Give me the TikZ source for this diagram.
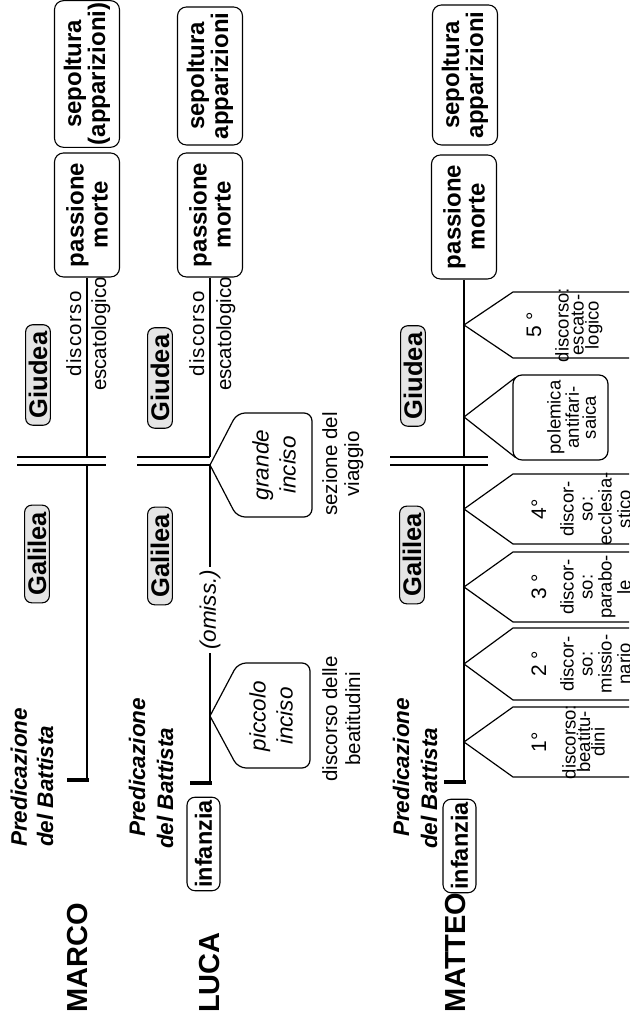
\documentclass[tikz,border=0pt]{standalone}
\usepackage{fontspec}
\setmainfont{Liberation Sans}
\tikzset{
  region/.style={draw, fill=gray!20, rounded corners=7pt, line width=1.1pt,
    font=\fontsize{25.5}{28}\selectfont\bfseries, inner xsep=7pt, inner ysep=3pt},
  event/.style={draw, rounded corners=9pt, line width=1.1pt, align=center,
    font=\fontsize{24}{24}\selectfont\bfseries,
    minimum width=124pt, minimum height=65pt, inner sep=2pt},
  infbox/.style={draw, rounded corners=8pt, line width=1.1pt,
    font=\fontsize{23.5}{24}\selectfont\bfseries, inner xsep=3pt, inner ysep=2pt,
    minimum height=33pt},
  gospel/.style={font=\fontsize{29}{30}\selectfont\bfseries, anchor=west, inner sep=0pt},
  battista/.style={font=\fontsize{22.5}{26}\selectfont\bfseries\itshape,
    anchor=base west, inner sep=0pt},
  remark/.style={font=\fontsize{20.5}{24}\selectfont, anchor=base, inner sep=0pt},
  inciso/.style={font=\fontsize{22.5}{27}\selectfont\itshape, align=center, inner sep=0pt},
  numeral/.style={font=\fontsize{21}{22}\selectfont, anchor=base, inner sep=0pt},
  disctext/.style={font=\fontsize{18.5}{#1}\selectfont, align=center, anchor=north,
    inner sep=0pt},
  disctext/.default=19,
  tl/.style={line width=1.2pt},
  startbar/.style={line width=4pt},
  cut/.style={line width=1.3pt}
}

\begin{document}
\begin{tikzpicture}[x=1pt, y=1pt]
\useasboundingbox (0,0) rectangle (629,1016);
\clip (0,0) rectangle (629,1016);
\begin{scope}[rotate=90, transform shape]

% MARCO
\node[gospel] (marco) at (3,-78) {MARCO};
\node[battista] (marcoPr1) at (169,-27) {Predicazione};
\node[battista] (marcoPr2) at (169,-53) {del Battista};
\coordinate (marcoS) at (236,-87);
\coordinate (marcoB1) at (551,-87);
\coordinate (marcoB2) at (559,-87);
\node[region] (marcoGal) at (462,-37) {Galilea};
\node[region] (marcoGiu) at (641,-38) {Giudea};
\node[remark] (marcoEs1) at (682,-81) {\addfontfeature{LetterSpace=6}discorso};
\node[remark] (marcoEs2) at (682,-106) {escatologico};
\node[event] (marcoPas) at (801,-87) {passione\\morte};
\node[event, minimum width=138pt] (marcoSep) at (942,-87) {sepoltura\\(apparizioni)};
\draw[startbar] (236,-67) -- (236,-89);
\draw[tl] (marcoS) -- (marcoB1);
\draw[tl] (marcoB2) -- (marcoPas.west);
\draw[cut] (551,-17) -- (551,-106) (559,-17) -- (559,-106);

% LUCA
\node[gospel] (luca) at (3,-210) {LUCA};
\node[infbox] (lucaInf) at (172,-203.5) {infanzia};
\node[battista] (lucaPr1) at (179,-145) {Predicazione};
\node[battista] (lucaPr2) at (167,-173) {del Battista};
\coordinate (lucaS) at (233,-210);
\coordinate (lucaB1) at (551,-210);
\coordinate (lucaB2) at (559,-210);
\node[inciso, inner sep=3pt] (lucaOm) at (406,-210) {(omiss.)};
\node[region] (lucaGal) at (460,-160) {Galilea};
\node[region] (lucaGiu) at (638,-160) {Giudea};
\node[remark] (lucaEs1) at (682,-204) {\addfontfeature{LetterSpace=6}discorso};
\node[remark] (lucaEs2) at (682,-231) {escatologico};
\node[event] (lucaPas) at (801,-210) {passione\\morte};
\node[event, minimum width=138pt] (lucaSep) at (940,-210) {sepoltura\\apparizioni};
\draw[startbar] (233,-190) -- (233,-212);
\draw[tl] (lucaS) -- (lucaOm.west);
\draw[tl] (lucaOm.east) -- (lucaB1);
\draw[tl] (lucaB2) -- (lucaPas.west);
\draw[cut] (551,-137) -- (551,-210) (559,-137) -- (559,-210);
% piccolo e grande inciso
\draw[tl, rounded corners=8pt] (300,-210) -- (248,-238) -- (248,-310)
  -- (353,-310) -- (353,-238) -- (300,-210);
\node[inciso] (lucaPic) at (300,-271) {piccolo\\inciso};
\node[remark] (lucaBe1) at (297,-337) {discorso delle};
\node[remark] (lucaBe2) at (297,-360) {beatitudini};
\draw[tl, rounded corners=8pt] (551,-210) -- (499,-237) -- (499,-312)
  -- (603,-312) -- (603,-237) -- (551,-210);
\node[inciso] (lucaGra) at (551,-274) {grande\\inciso};
\node[remark] (lucaVi1) at (552,-337) {sezione del};
\node[remark] (lucaVi2) at (552,-359) {viaggio};

% MATTEO
\node[gospel] (matteo) at (3,-456) {MATTEO};
\node[infbox] (matInf) at (170,-459.5) {infanzia};
\node[battista] (matPr1) at (179,-409) {Predicazione};
\node[battista] (matPr2) at (167,-437) {del Battista};
\coordinate (matS) at (234,-464);
\coordinate (matB1) at (551,-464);
\coordinate (matB2) at (559,-464);
\node[region] (matGal) at (461,-412) {Galilea};
\node[region] (matGiu) at (640,-413) {Giudea};
\node[event] (matPas) at (799,-464) {passione\\morte};
\node[event, minimum width=140pt] (matSep) at (941,-465) {sepoltura\\apparizioni};
\draw[startbar] (234,-444) -- (234,-466);
\draw[tl] (matS) -- (matB1);
\draw[tl] (matB2) -- (matPas.west);
\draw[cut] (551,-390) -- (551,-488) (559,-390) -- (559,-488);
% i cinque discorsi
\draw[tl] (239,-650) -- (239,-513) -- (274,-464) -- (309,-513) -- (309,-650);
\node[numeral] (matN1) at (274,-546) {1°};
\node[disctext=14.5] (matT1) at (274,-562) {discorso:\\beatitu-\\dini};
\draw[tl] (316,-650) -- (316,-513) -- (352,-464) -- (388,-513) -- (388,-650);
\node[numeral] (matN2) at (352,-546) {2 °};
\node[disctext] (matT2) at (352,-560) {discor-\\so:\\missio-\\nario};
\draw[tl] (394,-650) -- (394,-513) -- (429,-464) -- (464,-513) -- (464,-650);
\node[numeral] (matN3) at (429,-546) {3 °};
\node[disctext] (matT3) at (429,-560) {discor-\\so:\\parabo-\\le};
\draw[tl] (472,-650) -- (472,-513) -- (507,-464) -- (542,-513) -- (542,-650);
\node[numeral] (matN4) at (507,-546) {4°};
\node[disctext] (matT4) at (507,-560) {discor-\\so:\\ecclesia-\\stico};
\draw[tl, rounded corners=9pt] (556,-513) rectangle (641,-608);
\draw[tl] (558.5,-515.5) -- (599,-464) -- (638.5,-515.5);
\node[disctext=17] (matPol) at (598.5,-547) {polemica\\antifari-\\saica};
\draw[tl] (658,-650) -- (658,-513) -- (691,-464) -- (724,-513) -- (724,-650);
\node[numeral] (matN5) at (691,-541) {5 °};
\node[disctext=15] (matT5) at (691,-555) {discorso:\\escato-\\logico};

\end{scope}
\end{tikzpicture}
\end{document}
